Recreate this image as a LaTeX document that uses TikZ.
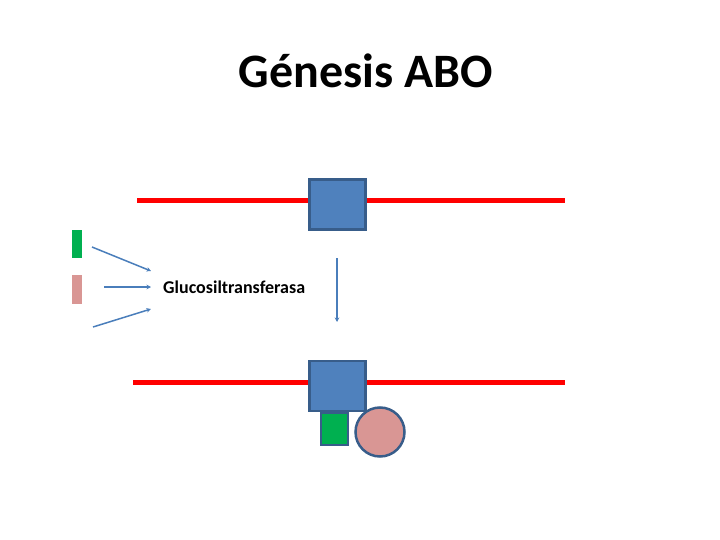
\documentclass[tikz,border=0pt]{standalone}
\usepackage{fontspec}
\setmainfont{Carlito}
\usetikzlibrary{arrows.meta}
\definecolor{B1}{HTML}{4F81BD}
\definecolor{B2}{HTML}{385D8A}
\definecolor{B3}{HTML}{4A7EBB}
\definecolor{G1}{HTML}{00B050}
\definecolor{P1}{HTML}{D99694}
\tikzset{
  gene/.style = {
    rectangle,
    minimum width = 56pt,
    minimum height = 50pt,
    inner sep = 0pt,
    fill = B1,
    draw = B2,
    line width = 2.5pt,
  },
  bar/.style 2 args = {
    rectangle,
    minimum width = 10pt,
    minimum height = #1,
    inner sep = 0pt,
    fill = #2,
  },
  chrom/.style = {red, line width = 5pt},
  flow/.style = {B3, line width = 1.5pt, -{Stealth[length=4.5pt,width=4.5pt]}},
}

\begin{document}
\begin{tikzpicture}[x=1pt,y=-1pt]
  \useasboundingbox (0,0) rectangle (720,540);
  \node[anchor=base,font=\bfseries\fontsize{48}{56}\selectfont](title) at (366,88) {Génesis ABO};
  % cromosomas
  \node[gene](ga) at (337.5,204.5) {};
  \node[gene](gb) at (337.5,386) {};
  \coordinate (ra1) at (137,201);
  \coordinate (ra2) at (565,201);
  \coordinate (rb1) at (133,382);
  \coordinate (rb2) at (565,382);
  \draw[chrom](ra1) -- (ga.west |- ra1);
  \draw[chrom](ga.east |- ra2) -- (ra2);
  \draw[chrom](rb1) -- (gb.west |- rb1);
  \draw[chrom](gb.east |- rb2) -- (rb2);
  % azucares
  \node[bar={28pt}{G1}](sa) at (77,244) {};
  \node[bar={29pt}{P1}](sb) at (77,289.5) {};
  \node[gene,minimum width=27pt,minimum height=32pt,fill=G1](sc) at (334.5,429) {};
  \node[circle,minimum size=49pt,inner sep=0pt,fill=P1,draw=B2,line width=2.5pt](sd) at (380,432) {};
  % enzima
  \node[anchor=west,inner sep=0pt,font=\bfseries\fontsize{18}{20}\selectfont](enz) at (163,287) {Glucosiltransferasa};
  \coordinate (a1) at (92,247);
  \coordinate (a2) at (104,287);
  \coordinate (a3) at (93,327);
  \coordinate (e1) at (151,271);
  \coordinate (e2) at (151,287);
  \coordinate (e3) at (151,309);
  \draw[flow](a1) -- (e1);
  \draw[flow](a2) -- (e2);
  \draw[flow](a3) -- (e3);
  \coordinate (v1) at (337,258);
  \coordinate (v2) at (337,322);
  \draw[flow](v1) -- (v2);
\end{tikzpicture}
\end{document}
